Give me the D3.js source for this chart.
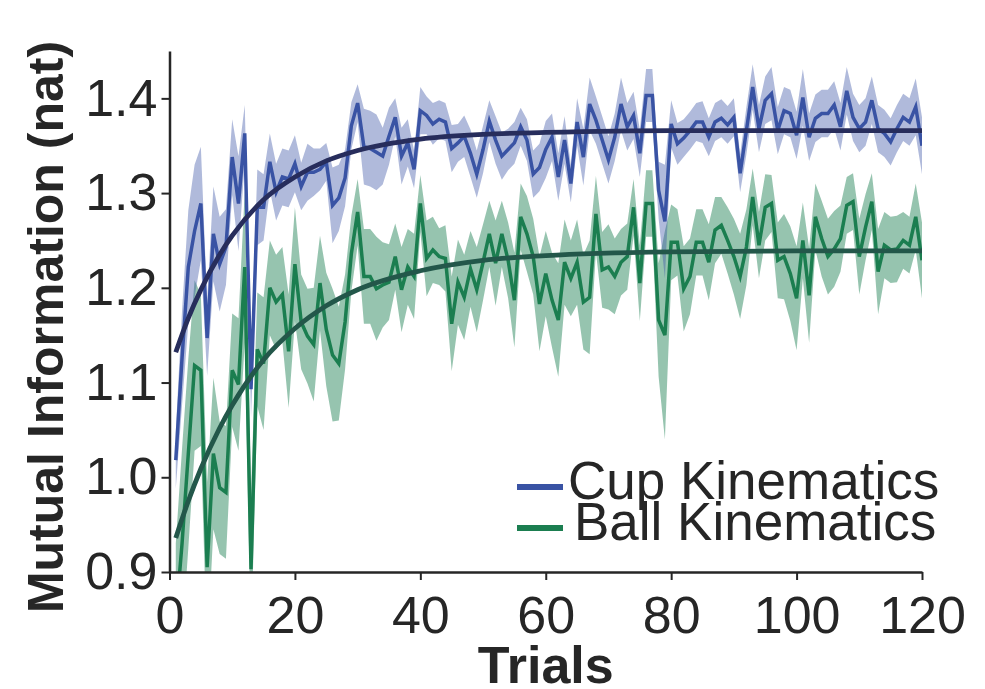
<!DOCTYPE html>
<html>
<head>
<meta charset="utf-8">
<script src="https://cdn.jsdelivr.net/npm/d3@7"></script>
<style>
  body { margin: 0; background: #fff; }
  text { font-family: "Liberation Sans", Arial, sans-serif; fill: #262626; }
</style>
</head>
<body>
<div id="chart"></div>
<script>
// mean mutual information per trial
var cupMean = [
  1.018, 1.126, 1.222, 1.260, 1.289, 1.147, 1.257, 1.225, 1.243, 1.338,
  1.289, 1.363, 1.093, 1.285, 1.285, 1.333, 1.301, 1.317, 1.315, 1.331,
  1.307, 1.322, 1.322, 1.325, 1.333, 1.287, 1.295, 1.316, 1.371, 1.395,
  1.349, 1.347, 1.343, 1.339, 1.360, 1.380, 1.339, 1.353, 1.325, 1.387,
  1.382, 1.373, 1.378, 1.375, 1.347, 1.353, 1.360, 1.342, 1.320, 1.346,
  1.376, 1.356, 1.339, 1.346, 1.353, 1.370, 1.356, 1.320, 1.327, 1.346,
  1.359, 1.317, 1.356, 1.310, 1.375, 1.338, 1.394, 1.377, 1.356, 1.335,
  1.359, 1.394, 1.370, 1.382, 1.342, 1.403, 1.403, 1.303, 1.270, 1.373,
  1.352, 1.358, 1.366, 1.375, 1.375, 1.359, 1.375, 1.379, 1.372, 1.380,
  1.321, 1.366, 1.412, 1.368, 1.398, 1.405, 1.366, 1.387, 1.384, 1.361,
  1.401, 1.359, 1.379, 1.384, 1.384, 1.393, 1.370, 1.408, 1.380, 1.368,
  1.375, 1.398, 1.368, 1.363, 1.354, 1.368, 1.380, 1.375, 1.391, 1.350
];
var cupErr = [
  0.030, 0.050, 0.060, 0.070, 0.060, 0.040, 0.050, 0.050, 0.040, 0.040,
  0.050, 0.030, 0.030, 0.040, 0.035, 0.030, 0.030, 0.030, 0.030, 0.030,
  0.025, 0.030, 0.025, 0.022, 0.020, 0.040, 0.035, 0.030, 0.025, 0.020,
  0.040, 0.040, 0.040, 0.030, 0.030, 0.020, 0.030, 0.025, 0.020, 0.025,
  0.020, 0.022, 0.020, 0.020, 0.025, 0.020, 0.022, 0.025, 0.025, 0.025,
  0.022, 0.025, 0.025, 0.022, 0.022, 0.020, 0.022, 0.025, 0.025, 0.030,
  0.025, 0.025, 0.025, 0.020, 0.025, 0.030, 0.028, 0.025, 0.025, 0.025,
  0.025, 0.028, 0.025, 0.025, 0.025, 0.028, 0.028, 0.030, 0.060, 0.025,
  0.022, 0.020, 0.020, 0.020, 0.022, 0.020, 0.020, 0.020, 0.020, 0.020,
  0.020, 0.025, 0.024, 0.025, 0.025, 0.028, 0.025, 0.025, 0.025, 0.025,
  0.030, 0.025, 0.025, 0.025, 0.025, 0.025, 0.025, 0.025, 0.025, 0.025,
  0.025, 0.025, 0.025, 0.025, 0.025, 0.025, 0.025, 0.025, 0.030, 0.030
];
var ballMean = [
  0.850, 0.930, 1.025, 1.118, 1.113, 0.905, 1.025, 0.989, 0.984, 1.113,
  1.098, 1.222, 0.903, 1.135, 1.120, 1.200, 1.185, 1.193, 1.133, 1.225,
  1.164, 1.149, 1.140, 1.205, 1.156, 1.129, 1.120, 1.164, 1.236, 1.280,
  1.212, 1.212, 1.199, 1.203, 1.206, 1.233, 1.198, 1.222, 1.212, 1.289,
  1.231, 1.240, 1.233, 1.231, 1.162, 1.206, 1.190, 1.220, 1.198, 1.227,
  1.257, 1.226, 1.257, 1.229, 1.187, 1.275, 1.257, 1.233, 1.183, 1.215,
  1.187, 1.166, 1.227, 1.210, 1.227, 1.185, 1.190, 1.278, 1.219, 1.222,
  1.212, 1.227, 1.233, 1.285, 1.205, 1.289, 1.289, 1.166, 1.150, 1.248,
  1.248, 1.199, 1.212, 1.248, 1.248, 1.227, 1.261, 1.266, 1.250, 1.233,
  1.212, 1.243, 1.296, 1.245, 1.285, 1.289, 1.229, 1.233, 1.215, 1.189,
  1.250, 1.192, 1.275, 1.252, 1.233, 1.241, 1.252, 1.287, 1.291, 1.233,
  1.264, 1.291, 1.217, 1.245, 1.240, 1.241, 1.250, 1.245, 1.275, 1.229
];
var ballErr = [
  0.080, 0.100, 0.100, 0.090, 0.080, 0.090, 0.080, 0.070, 0.070, 0.060,
  0.070, 0.080, 0.080, 0.060, 0.070, 0.050, 0.050, 0.050, 0.060, 0.060,
  0.050, 0.050, 0.060, 0.050, 0.060, 0.070, 0.060, 0.050, 0.040, 0.035,
  0.050, 0.050, 0.055, 0.045, 0.040, 0.035, 0.045, 0.040, 0.045, 0.030,
  0.040, 0.035, 0.030, 0.035, 0.050, 0.045, 0.045, 0.040, 0.045, 0.040,
  0.035, 0.045, 0.035, 0.040, 0.050, 0.035, 0.040, 0.040, 0.050, 0.045,
  0.050, 0.060, 0.045, 0.040, 0.045, 0.050, 0.060, 0.040, 0.040, 0.045,
  0.040, 0.035, 0.035, 0.030, 0.040, 0.035, 0.035, 0.060, 0.110, 0.040,
  0.035, 0.045, 0.040, 0.035, 0.035, 0.040, 0.035, 0.030, 0.035, 0.040,
  0.045, 0.040, 0.030, 0.035, 0.035, 0.030, 0.040, 0.045, 0.050, 0.055,
  0.040, 0.050, 0.035, 0.040, 0.040, 0.040, 0.035, 0.030, 0.030, 0.040,
  0.035, 0.030, 0.045, 0.035, 0.035, 0.035, 0.030, 0.030, 0.035, 0.040
];
// exponential fits at a few trials
var fitTrials = [1, 3, 5, 8, 10, 15, 20, 25, 30, 40, 50, 60, 80, 100, 120];
var cupFit  = [1.132, 1.168, 1.198, 1.235, 1.255, 1.293, 1.317, 1.334, 1.345, 1.357, 1.362, 1.364, 1.366, 1.366, 1.366];
var ballFit = [0.936, 0.975, 1.009, 1.052, 1.076, 1.124, 1.157, 1.181, 1.198, 1.218, 1.229, 1.234, 1.238, 1.239, 1.239];

var xTicks = [0, 20, 40, 60, 80, 100, 120];
var yTicks = [0.9, 1.0, 1.1, 1.2, 1.3, 1.4];
var seriesNames = ["Cup Kinematics", "Ball Kinematics"];

var margin = {top: 51, right: 63, bottom: 117, left: 169.5};
var W = 985, H = 689;
var width = W - margin.left - margin.right;
var height = H - margin.top - margin.bottom;

var x = d3.scaleLinear().domain([0, 120]).range([0, width]);
var y = d3.scaleLinear().domain([0.9, 1.45]).range([height, 0]);

var svg = d3.select("#chart").append("svg")
  .attr("width", W).attr("height", H);

svg.append("defs").append("clipPath").attr("id", "clipper")
  .append("rect").attr("width", width).attr("height", height);

var g = svg.append("g")
  .attr("transform", "translate(" + margin.left + "," + margin.top + ")");

var plot = g.append("g").attr("clip-path", "url(#clipper)");

function rows(mean, err) {
  return mean.map(function(m, i) { return {t: i + 1, m: m, e: err[i]}; });
}
var cupRows = rows(cupMean, cupErr);
var ballRows = rows(ballMean, ballErr);

var band = d3.area()
  .x(function(d) { return x(d.t); })
  .y0(function(d) { return y(d.m - d.e); })
  .y1(function(d) { return y(d.m + d.e); });
var meanLine = d3.line()
  .x(function(d) { return x(d.t); })
  .y(function(d) { return y(d.m); });

plot.append("path").datum(ballRows).attr("d", band)
  .attr("fill", "#1b7e50").attr("fill-opacity", 0.46);
plot.append("path").datum(cupRows).attr("d", band)
  .attr("fill", "#3953a4").attr("fill-opacity", 0.4);

plot.append("path").datum(cupRows).attr("d", meanLine)
  .attr("fill", "none").attr("stroke", "#3953a4").attr("stroke-width", 3.5);
plot.append("path").datum(ballRows).attr("d", meanLine)
  .attr("fill", "none").attr("stroke", "#1b7e50").attr("stroke-width", 3.5);

var fitLine = d3.line()
  .x(function(d, i) { return x(fitTrials[i]); })
  .y(function(d) { return y(d); })
  .curve(d3.curveMonotoneX);

plot.append("path").datum(cupFit).attr("d", fitLine)
  .attr("fill", "none").attr("stroke", "#272d5c").attr("stroke-width", 4.8);
plot.append("path").datum(ballFit).attr("d", fitLine)
  .attr("fill", "none").attr("stroke", "#23574a").attr("stroke-width", 4.8);

// axes
var xAxis = g.append("g")
  .attr("transform", "translate(0," + height + ")")
  .call(d3.axisBottom(x).tickValues(xTicks).tickSize(8).tickSizeOuter(0).tickPadding(16));
var yAxis = g.append("g")
  .call(d3.axisLeft(y).tickValues(yTicks).tickFormat(d3.format(".1f"))
    .tickSize(8).tickSizeOuter(0).tickPadding(4));

[xAxis, yAxis].forEach(function(a) {
  a.select(".domain").attr("stroke", "#262626").attr("stroke-width", 2.5);
  a.selectAll(".tick line").attr("stroke", "#262626").attr("stroke-width", 2);
  a.selectAll(".tick text")
    .attr("font-family", "Liberation Sans, Arial, sans-serif")
    .attr("font-size", 52).attr("fill", "#262626");
});

// axis titles
svg.append("text")
  .attr("x", margin.left + width / 2).attr("y", 683)
  .attr("text-anchor", "middle")
  .attr("font-size", 52).attr("font-weight", "bold")
  .text("Trials");
svg.append("text")
  .attr("transform", "translate(63,327) rotate(-90)")
  .attr("text-anchor", "middle")
  .attr("font-size", 50).attr("font-weight", "bold")
  .text("Mutual Information (nat)");

// legend
var legendColors = ["#3953a4", "#1b7e50"];
var legend = svg.append("g").attr("transform", "translate(517,487)");
seriesNames.forEach(function(name, i) {
  var row = legend.append("g").attr("transform", "translate(0," + (i * 41) + ")");
  row.append("line").attr("x1", 0).attr("x2", 46)
    .attr("stroke", legendColors[i]).attr("stroke-width", 6);
  row.append("text").attr("x", 51 + i * 6).attr("y", 12)
    .attr("font-size", 53).text(name);
});
</script>
</body>
</html>
